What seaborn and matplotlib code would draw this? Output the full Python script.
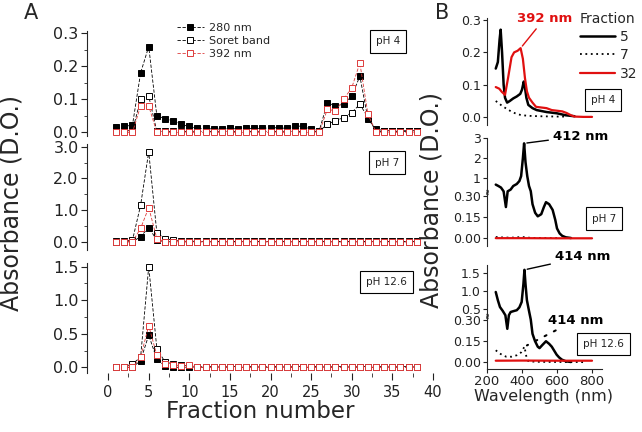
import numpy as np
import matplotlib
matplotlib.use("Agg")
import matplotlib.pyplot as plt
import seaborn as sns

sns.set_style("ticks")
plt.rcParams['font.family'] = ['DejaVu Sans']

# ---------------- panel A : absorbance per fraction ----------------
fractions = list(range(1, 39))

a280_ph4 = [0.015, 0.018, 0.022, 0.180, 0.260, 0.050, 0.042, 0.035, 0.024, 0.018,
            0.012, 0.012, 0.010, 0.010, 0.012, 0.010, 0.012, 0.012, 0.012, 0.014,
            0.014, 0.012, 0.020, 0.018, 0.010, 0.005, 0.090, 0.080, 0.085, 0.110,
            0.170, 0.040, 0.010, 0.005, 0.005, 0.005, 0.005, 0.005]
soret_ph4 = [0.005, 0.005, 0.005, 0.100, 0.110, 0.003, 0.003, 0.003, 0.003, 0.003,
             0.003, 0.003, 0.003, 0.003, 0.003, 0.003, 0.003, 0.003, 0.003, 0.003,
             0.003, 0.003, 0.003, 0.003, 0.003, 0.003, 0.025, 0.035, 0.045, 0.060,
             0.085, 0.045, 0.003, 0.003, 0.003, 0.003, 0.003, 0.003]
a392_ph4 = [0.000, 0.000, 0.000, 0.080, 0.080, 0.000, 0.000, 0.000, 0.000, 0.000,
            0.000, 0.000, 0.000, 0.000, 0.000, 0.000, 0.000, 0.000, 0.000, 0.000,
            0.000, 0.000, 0.000, 0.000, 0.000, 0.000, 0.070, 0.065, 0.100, 0.135,
            0.210, 0.055, 0.000, 0.000, 0.000, 0.000, 0.000, 0.000]

a280_ph7 = [0.00, 0.00, 0.00, 0.16, 0.45, 0.05, 0.00, 0.00, 0.00, 0.00,
            0.00, 0.00, 0.00, 0.00, 0.00, 0.00, 0.00, 0.00, 0.00, 0.00,
            0.00, 0.00, 0.00, 0.00, 0.00, 0.00, 0.00, 0.00, 0.00, 0.00,
            0.00, 0.00, 0.00, 0.00, 0.00, 0.00, 0.00, 0.00]
soret_ph7 = [0.02, 0.02, 0.05, 1.15, 2.84, 0.28, 0.10, 0.05, 0.02, 0.02,
             0.01, 0.01, 0.01, 0.01, 0.01, 0.01, 0.01, 0.01, 0.01, 0.01,
             0.01, 0.01, 0.01, 0.01, 0.01, 0.01, 0.01, 0.01, 0.01, 0.01,
             0.01, 0.01, 0.01, 0.01, 0.01, 0.01, 0.01, 0.01]
a392_ph7 = [0.00, 0.00, 0.00, 0.42, 1.08, 0.10, 0.00, 0.00, 0.00, 0.00,
            0.00, 0.00, 0.00, 0.00, 0.00, 0.00, 0.00, 0.00, 0.00, 0.00,
            0.00, 0.00, 0.00, 0.00, 0.00, 0.00, 0.00, 0.00, 0.00, 0.00,
            0.00, 0.00, 0.00, 0.00, 0.00, 0.00, 0.00, 0.00]

a280_ph12 = [0.00, 0.00, 0.00, 0.10, 0.48, 0.12, 0.02, 0.00, 0.00, 0.00,
             0.00, 0.00, 0.00, 0.00, 0.00, 0.00, 0.00, 0.00, 0.00, 0.00,
             0.00, 0.00, 0.00, 0.00, 0.00, 0.00, 0.00, 0.00, 0.00, 0.00,
             0.00, 0.00, 0.00, 0.00, 0.00, 0.00, 0.00, 0.00]
soret_ph12 = [0.01, 0.01, 0.05, 0.15, 1.50, 0.28, 0.08, 0.05, 0.03, 0.02,
              0.01, 0.01, 0.01, 0.01, 0.01, 0.01, 0.01, 0.01, 0.01, 0.01,
              0.01, 0.01, 0.01, 0.01, 0.01, 0.01, 0.01, 0.01, 0.01, 0.01,
              0.01, 0.01, 0.01, 0.01, 0.01, 0.01, 0.01, 0.01]
a392_ph12 = [0.00, 0.00, 0.00, 0.15, 0.62, 0.18, 0.05, 0.04, 0.02, 0.03,
             0.00, 0.00, 0.00, 0.00, 0.00, 0.00, 0.00, 0.00, 0.00, 0.00,
             0.00, 0.00, 0.00, 0.00, 0.00, 0.00, 0.00, 0.00, 0.00, 0.00,
             0.00, 0.00, 0.00, 0.00, 0.00, 0.00, 0.00, 0.00]

# ---------------- panel B : spectra ----------------
wl_ph4_f5 = [250, 262, 272, 278, 286, 295, 303, 315, 330, 350, 370, 390, 400, 410,
             416, 425, 436, 460, 484, 540, 600, 650, 700]
ab_ph4_f5 = [0.150, 0.170, 0.240, 0.270, 0.200, 0.100, 0.060, 0.045, 0.050, 0.058,
             0.064, 0.072, 0.085, 0.110, 0.095, 0.060, 0.038, 0.028, 0.022, 0.016,
             0.012, 0.006, 0.003]
wl_ph4_f7 = [250, 270, 290, 310, 340, 370, 400, 450, 500, 600, 650]
ab_ph4_f7 = [0.050, 0.042, 0.033, 0.027, 0.017, 0.010, 0.006, 0.004, 0.003, 0.002, 0.002]
wl_ph4_f32 = [250, 270, 285, 303, 320, 340, 355, 375, 392, 405, 417, 428, 440, 460,
              480, 510, 540, 570, 600, 630, 655, 680, 700, 750, 800]
ab_ph4_f32 = [0.093, 0.088, 0.078, 0.069, 0.120, 0.185, 0.200, 0.205, 0.213, 0.180,
              0.120, 0.080, 0.060, 0.045, 0.032, 0.030, 0.028, 0.022, 0.020, 0.018,
              0.013, 0.006, 0.002, 0.001, 0.001]

wl_ph7_f5 = [250, 265, 280, 295, 308, 318, 335, 350, 370, 385, 395, 405, 412, 420,
             430, 440, 450, 460, 475, 490, 510, 525, 537, 555, 575, 590, 600, 615,
             630, 650, 680]
ab_ph7_f5 = [0.67, 0.60, 0.52, 0.33, 0.22, 0.33, 0.42, 0.60, 0.70, 0.85, 1.10, 2.00,
             2.75, 1.80, 1.10, 0.60, 0.34, 0.24, 0.18, 0.155, 0.17, 0.22, 0.254, 0.24,
             0.20, 0.13, 0.07, 0.035, 0.018, 0.008, 0.003]
wl_ph7_f7 = [250, 300, 350, 400, 450, 500, 600]
ab_ph7_f7 = [0.010, 0.006, 0.006, 0.010, 0.004, 0.003, 0.002]
wl_ph7_f32 = [250, 400, 600, 800]
ab_ph7_f32 = [0.002, 0.002, 0.001, 0.001]

wl_ph12_f5 = [250, 262, 274, 290, 305, 316, 325, 335, 355, 370, 385, 398, 408, 414,
              420, 428, 440, 450, 460, 474, 490, 500, 515, 537, 555, 570, 585, 598,
              612, 627, 650, 680]
ab_ph12_f5 = [0.98, 0.75, 0.56, 0.45, 0.33, 0.235, 0.33, 0.42, 0.45, 0.47, 0.55, 0.70,
              1.20, 1.60, 1.20, 0.75, 0.45, 0.30, 0.20, 0.15, 0.11, 0.10, 0.12, 0.148,
              0.13, 0.11, 0.08, 0.054, 0.035, 0.02, 0.008, 0.003]
wl_ph12_f7 = [250, 270, 290, 310, 340, 370, 395, 414, 425, 435, 460, 500, 600, 700, 750]
ab_ph12_f7 = [0.085, 0.065, 0.050, 0.040, 0.040, 0.050, 0.070, 0.110, 0.040, 0.010,
              0.006, 0.004, 0.003, 0.003, 0.002]
wl_ph12_f32 = [250, 400, 600, 800]
ab_ph12_f32 = [0.012, 0.013, 0.012, 0.012]

W, H = 642, 432
fig = plt.figure(figsize=(W / 100, H / 100), dpi=100)


def px_axes(x0, y0, x1, y1):
    return fig.add_axes([x0 / W, 1 - y1 / H, (x1 - x0) / W, (y1 - y0) / H])


def ftext(x, y, s, **kw):
    return fig.text(x / W, 1 - y / H, s, **kw)


dash = (0, (4, 2))
red_a = '#dd3b3b'


def fraction_panel(ax, soret, a280, a392, ylim, ticks, minor, fmt, legend=False):
    sns.lineplot(x=fractions, y=soret, ax=ax, color='k', lw=0.6, ls=dash, marker='s',
                 ms=4.8, mfc='white', mec='k', mew=0.7,
                 label='Soret band' if legend else None)
    sns.lineplot(x=fractions, y=a280, ax=ax, color='k', lw=0.6, ls=dash, marker='s',
                 ms=4.8, mfc='k', mec='k', mew=0.7,
                 label='280 nm' if legend else None)
    sns.lineplot(x=fractions, y=a392, ax=ax, color=red_a, lw=0.6, ls=dash, marker='s',
                 ms=4.8, mfc='white', mec=red_a, mew=0.7,
                 label='392 nm' if legend else None)
    ax.set_xlim(-2.6, 40.5)
    ax.set_ylim(*ylim)
    ax.set_yticks(ticks)
    ax.set_yticks(minor, minor=True)
    ax.set_yticklabels([fmt % t for t in ticks])
    for s in ['top', 'right', 'bottom']:
        ax.spines[s].set_visible(False)
    ax.spines['left'].set_linewidth(0.8)
    ax.tick_params(axis='y', which='major', direction='out', length=4, width=0.8,
                   labelsize=11.5, pad=2, colors='#222222')
    ax.tick_params(axis='y', which='minor', direction='out', length=2, width=0.6)
    ax.patch.set_alpha(0)


axA1 = px_axes(87, 31, 437, 136)
fraction_panel(axA1, soret_ph4, a280_ph4, a392_ph4, (-0.011, 0.307),
               [0.0, 0.1, 0.2, 0.3], [0.05, 0.15, 0.25], '%.1f', legend=True)
axA2 = px_axes(87, 144, 437, 250)
fraction_panel(axA2, soret_ph7, a280_ph7, a392_ph7, (-0.26, 3.085),
               [0.0, 1.0, 2.0, 3.0], [0.5, 1.5, 2.5], '%.1f')
axA3 = px_axes(87, 263, 437, 373)
fraction_panel(axA3, soret_ph12, a280_ph12, a392_ph12, (-0.085, 1.554),
               [0.0, 0.5, 1.0, 1.5], [0.25, 0.75, 1.25], '%.1f')

for ax in (axA1, axA2):
    ax.set_xticks([])
axA3.set_xticks([0, 5, 10, 15, 20, 25, 30, 35, 40])
axA3.set_xticks([2.5, 7.5, 12.5, 17.5, 22.5, 27.5, 32.5, 37.5], minor=True)
axA3.tick_params(axis='x', which='major', direction='out', length=5, width=0.8,
                 labelsize=10.5, pad=3.5, colors='#222222')
axA3.tick_params(axis='x', which='minor', direction='out', length=3, width=0.6)

h, l = axA1.get_legend_handles_labels()
order = [l.index('280 nm'), l.index('Soret band'), l.index('392 nm')]
axA1.legend([h[i] for i in order], [l[i] for i in order], loc='upper left',
            bbox_to_anchor=(177 / W, 1 - 23 / H), bbox_transform=fig.transFigure,
            frameon=False, fontsize=8, handlelength=2.4, handletextpad=0.45,
            labelspacing=0.25, borderpad=0, borderaxespad=0, numpoints=1)


# ---------------- panel B ----------------
def broken_scale(ax, brk, ratio):
    def fwd(v):
        v = np.asarray(v, dtype=float)
        return np.where(v <= brk, v, brk + (v - brk) * ratio)

    def inv(u):
        u = np.asarray(u, dtype=float)
        return np.where(u <= brk, u, brk + (u - brk) / ratio)
    ax.set_yscale('function', functions=(fwd, inv))


def spectrum_panel(ax, f5, f7, f32, legend=False):
    sns.lineplot(x=f5[0], y=f5[1], ax=ax, color='k', lw=1.8, sort=False,
                 label='5' if legend else None)
    sns.lineplot(x=f7[0], y=f7[1], ax=ax, color='k', lw=1.3, ls=(0, (1, 2)), sort=False,
                 label='7' if legend else None)
    sns.lineplot(x=f32[0], y=f32[1], ax=ax, color='#e01010', lw=1.6, sort=False,
                 label='32' if legend else None)
    ax.set_xlim(200, 857)
    for s in ['top', 'right', 'bottom']:
        ax.spines[s].set_visible(False)
    ax.spines['left'].set_linewidth(0.8)
    ax.tick_params(axis='y', which='major', direction='out', length=3, width=0.8,
                   labelsize=9, pad=1.5, colors='#222222')
    ax.patch.set_alpha(0)


axB1 = px_axes(487, 18, 602, 125)
spectrum_panel(axB1, (wl_ph4_f5, ab_ph4_f5), (wl_ph4_f7, ab_ph4_f7),
               (wl_ph4_f32, ab_ph4_f32), legend=True)
axB1.set_ylim(-0.024, 0.306)
axB1.set_yticks([0.0, 0.1, 0.2, 0.3])
axB1.set_yticklabels(['0.0', '0.1', '0.2', '0.3'])
axB1.set_xticks([])

axB2 = px_axes(487, 138, 602, 246)
spectrum_panel(axB2, (wl_ph7_f5, ab_ph7_f5), (wl_ph7_f7, ab_ph7_f7),
               (wl_ph7_f32, ab_ph7_f32))
broken_scale(axB2, 0.33, 0.139)
axB2.set_ylim(-0.053, 3.02)
axB2.set_yticks([0.0, 0.15, 0.30, 1, 2, 3])
axB2.set_yticklabels(['0.00', '0.15', '0.30', '1', '2', '3'])
axB2.set_xticks([])

axB3 = px_axes(487, 265, 602, 369)
spectrum_panel(axB3, (wl_ph12_f5, ab_ph12_f5), (wl_ph12_f7, ab_ph12_f7),
               (wl_ph12_f32, ab_ph12_f32))
broken_scale(axB3, 0.33, 0.25)
axB3.set_ylim(-0.046, 1.735)
axB3.set_yticks([0.0, 0.15, 0.30, 0.5, 1.0, 1.5])
axB3.set_yticklabels(['0.00', '0.15', '0.30', '0.5', '1.0', '1.5'])
axB3.spines['bottom'].set_visible(True)
axB3.spines['bottom'].set_linewidth(0.8)
axB3.set_xticks([200, 400, 600, 800])
axB3.tick_params(axis='x', which='major', direction='out', length=3, width=0.8,
                 labelsize=9.5, pad=1, colors='#222222')

for ax in (axB2, axB3):
    ax.text(0, 0.33, '\u2248', transform=ax.get_yaxis_transform(), ha='center',
            va='center', fontsize=6, rotation=90)

axB1.legend(loc='upper left', bbox_to_anchor=(580 / W, 1 - 12 / H),
            bbox_transform=fig.transFigure, frameon=False, fontsize=10,
            title='Fraction', title_fontsize=10, handlelength=2.5, handletextpad=0.35,
            labelspacing=0.3, borderpad=0, borderaxespad=0, alignment='left')

# peak annotations
axB1.annotate('392 nm', xy=(392, 0.213), xytext=(545, H - 18), textcoords='figure pixels',
              ha='center', va='center', color='#e01010', fontweight='bold', fontsize=9.5,
              arrowprops=dict(arrowstyle='-', color='#e01010', lw=1, shrinkA=1, shrinkB=2),
              annotation_clip=False)
axB2.annotate('412 nm', xy=(412, 2.75), xytext=(553, H - 136), textcoords='figure pixels',
              ha='left', va='center', color='k', fontweight='bold', fontsize=9.5,
              arrowprops=dict(arrowstyle='-', color='k', lw=1, shrinkA=1, shrinkB=2),
              annotation_clip=False)
axB3.annotate('414 nm', xy=(414, 1.6), xytext=(555, H - 257), textcoords='figure pixels',
              ha='left', va='center', color='k', fontweight='bold', fontsize=9.5,
              arrowprops=dict(arrowstyle='-', color='k', lw=1, shrinkA=1, shrinkB=2),
              annotation_clip=False)
axB3.annotate('414 nm', xy=(414, 0.11), xytext=(548, H - 320), textcoords='figure pixels',
              ha='left', va='center', color='k', fontweight='bold', fontsize=9.5,
              arrowprops=dict(arrowstyle='-', color='k', lw=1.5, ls=(0, (1, 4)),
                              shrinkA=1, shrinkB=2),
              annotation_clip=False)

# pH boxes
box = dict(boxstyle='square,pad=0.6', fc='white', ec='k', lw=0.8)
for (x, y, s) in [(388, 41.5, 'pH 4'), (387, 162.5, 'pH 7'), (386.5, 282, 'pH 12.6'),
                  (603, 100, 'pH 4'), (604, 218.5, 'pH 7'), (603.5, 344, 'pH 12.6')]:
    ftext(x, y, s, ha='center', va='center', fontsize=7.5, color='#222222', bbox=box)

# labels
ftext(31, 13, 'A', ha='center', va='center', fontsize=15)
ftext(442, 13, 'B', ha='center', va='center', fontsize=15)
ftext(12, 203, 'Absorbance (D.O.)', ha='center', va='center', rotation=90, fontsize=17)
ftext(431, 200, 'Absorbance (D.O.)', ha='center', va='center', rotation=90, fontsize=17)
ftext(260, 412, 'Fraction number', ha='center', va='center', fontsize=16.5)
ftext(544, 397, 'Wavelength (nm)', ha='center', va='center', fontsize=11.5)

fig.savefig('out.png', dpi=100)
